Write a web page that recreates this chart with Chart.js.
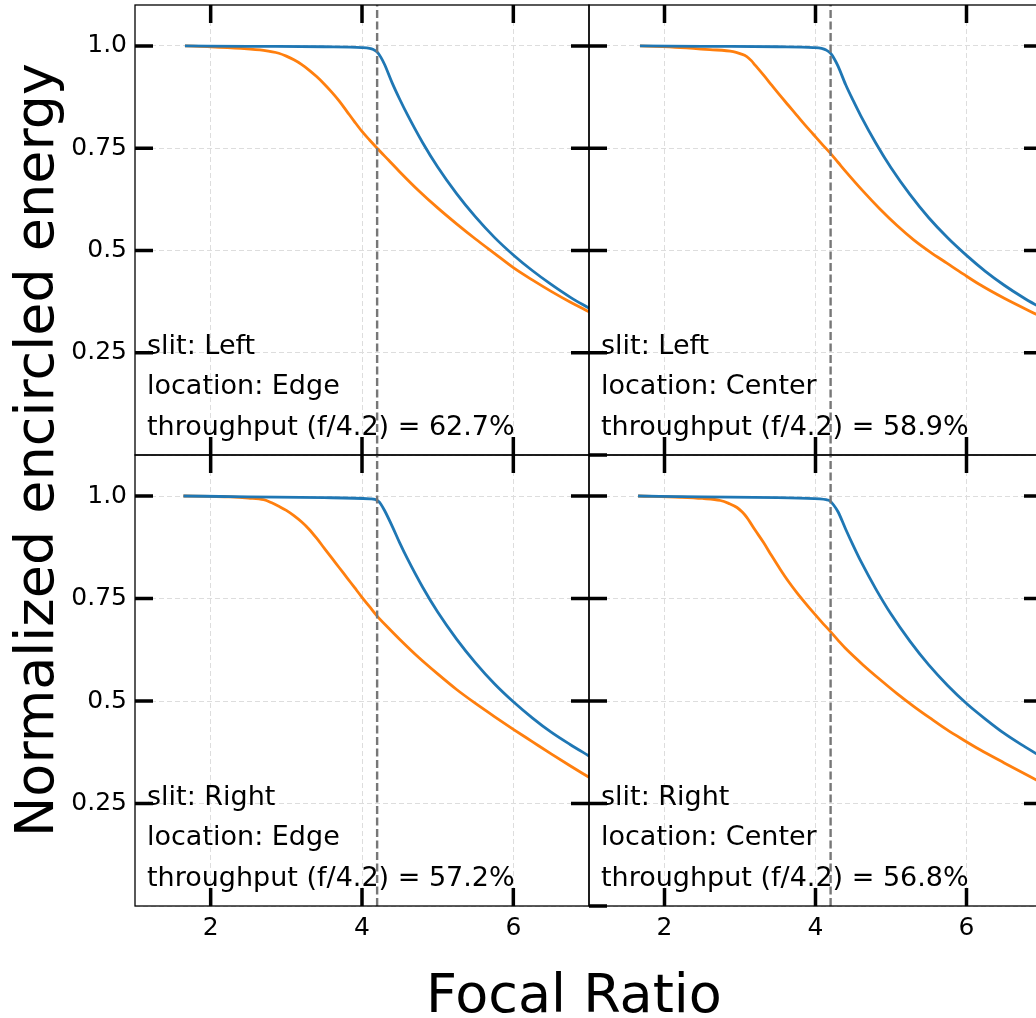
<!DOCTYPE html>
<html><head><meta charset="utf-8">
<script src="https://cdn.jsdelivr.net/npm/chart.js@4.4.0/dist/chart.umd.min.js"></script>
<style>
html,body{margin:0;padding:0;background:#fff;overflow:hidden;}
#wrap{position:relative;width:1036px;height:1018px;overflow:hidden;background:#fff;}
#wrap canvas{position:absolute;left:0;top:0;}
</style></head><body>
<div id="wrap">
<canvas id="c0" width="1050" height="1018"></canvas>
<canvas id="c1" width="1050" height="1018"></canvas>
<canvas id="c2" width="1050" height="1018"></canvas>
<canvas id="c3" width="1050" height="1018"></canvas>
</div>
<script>
// ---------- data ----------
const focalRatioRef = 4.2;
const xTickValues = [2, 4, 6];
const yTickValues = [0, 0.25, 0.5, 0.75, 1.0];
const yTickLabels = ['', '0.25', '0.5', '0.75', '1.0'];
const xTitle = 'Focal Ratio';
const yTitle = 'Normalized encircled energy';

// top-left: slit Left, location Edge
const tlBlueX = [1.66, 2.5, 3.5, 4.0, 4.1, 4.15, 4.2, 4.25, 4.3, 4.4, 4.5, 4.6, 4.8, 5.0, 5.25, 5.5, 5.75, 6.0, 6.25, 6.5, 6.75, 7.0];
const tlBlueY = [1.0, 0.999, 0.998, 0.996, 0.994, 0.991, 0.985, 0.972, 0.954, 0.909, 0.869, 0.832, 0.764, 0.704, 0.639, 0.582, 0.532, 0.489, 0.451, 0.417, 0.386, 0.359];
const tlOrangeX = [1.66, 2.0, 2.4, 2.7, 2.9, 3.0, 3.1, 3.2, 3.3, 3.4, 3.5, 3.6, 3.7, 3.8, 3.9, 4.0, 4.1, 4.2, 4.35, 4.5, 4.75, 5.0, 5.25, 5.5, 5.75, 6.0, 6.25, 6.5, 6.75, 7.0];
const tlOrangeY = [1.0, 0.998, 0.994, 0.989, 0.982, 0.975, 0.966, 0.955, 0.941, 0.925, 0.907, 0.887, 0.865, 0.840, 0.815, 0.791, 0.770, 0.750, 0.721, 0.692, 0.646, 0.604, 0.565, 0.528, 0.493, 0.458, 0.428, 0.400, 0.374, 0.350];
const tlText = ['slit: Left', 'location: Edge', 'throughput (f/4.2) = 62.7%'];

// top-right: slit Left, location Center
const trBlueX = [1.675, 2.5, 3.5, 3.97, 4.08, 4.14, 4.2, 4.25, 4.3, 4.4, 4.5, 4.6, 4.8, 5.0, 5.25, 5.5, 5.75, 6.0, 6.25, 6.5, 6.75, 7.0];
const trBlueY = [1.0, 0.999, 0.998, 0.996, 0.994, 0.990, 0.982, 0.968, 0.950, 0.905, 0.866, 0.829, 0.762, 0.702, 0.637, 0.580, 0.531, 0.488, 0.449, 0.415, 0.385, 0.358];
const trOrangeX = [1.675, 2.21, 2.6, 2.91, 3.0, 3.09, 3.15, 3.2, 3.31, 3.42, 3.53, 3.64, 3.75, 3.86, 3.97, 4.08, 4.19, 4.30, 4.41, 4.63, 4.85, 5.08, 5.30, 5.52, 5.74, 5.96, 6.18, 6.5, 7.0];
const trOrangeY = [1.0, 0.996, 0.991, 0.986, 0.981, 0.974, 0.964, 0.953, 0.929, 0.904, 0.879, 0.855, 0.831, 0.807, 0.784, 0.761, 0.739, 0.715, 0.691, 0.645, 0.602, 0.561, 0.526, 0.496, 0.469, 0.442, 0.416, 0.383, 0.337];
const trText = ['slit: Left', 'location: Center', 'throughput (f/4.2) = 58.9%'];

// bottom-left: slit Right, location Edge
const blBlueX = [1.64, 2.5, 3.5, 4.11, 4.17, 4.21, 4.25, 4.3, 4.4, 4.5, 4.6, 4.8, 5.0, 5.25, 5.5, 5.75, 6.0, 6.25, 6.5, 6.75, 7.0];
const blBlueY = [1.0, 0.998, 0.996, 0.993, 0.992, 0.988, 0.980, 0.964, 0.926, 0.885, 0.847, 0.778, 0.717, 0.651, 0.593, 0.542, 0.498, 0.459, 0.424, 0.394, 0.366];
const blOrangeX = [1.64, 2.0, 2.26, 2.5, 2.7, 2.8, 2.9, 3.0, 3.1, 3.2, 3.3, 3.4, 3.5, 3.6, 3.7, 3.8, 3.9, 4.0, 4.1, 4.2, 4.35, 4.5, 4.75, 5.0, 5.25, 5.5, 5.75, 6.0, 6.25, 6.5, 6.75, 7.0];
const blOrangeY = [1.0, 0.999, 0.998, 0.995, 0.991, 0.984, 0.975, 0.965, 0.952, 0.937, 0.919, 0.897, 0.873, 0.849, 0.825, 0.801, 0.777, 0.753, 0.730, 0.707, 0.678, 0.650, 0.606, 0.566, 0.528, 0.494, 0.462, 0.431, 0.401, 0.371, 0.342, 0.314];
const blText = ['slit: Right', 'location: Edge', 'throughput (f/4.2) = 57.2%'];

// bottom-right: slit Right, location Center
const brBlueX = [1.65, 2.5, 3.5, 4.06, 4.14, 4.19, 4.24, 4.3, 4.4, 4.5, 4.6, 4.8, 5.0, 5.25, 5.5, 5.75, 6.0, 6.25, 6.5, 6.75, 7.0];
const brBlueY = [1.0, 0.998, 0.996, 0.993, 0.991, 0.988, 0.978, 0.961, 0.919, 0.879, 0.841, 0.773, 0.712, 0.646, 0.588, 0.538, 0.494, 0.456, 0.421, 0.391, 0.363];
const brOrangeX = [1.65, 2.21, 2.5, 2.74, 2.85, 2.96, 3.03, 3.09, 3.2, 3.31, 3.42, 3.53, 3.64, 3.75, 3.86, 3.97, 4.08, 4.19, 4.30, 4.41, 4.63, 4.85, 5.08, 5.30, 5.52, 5.74, 5.96, 6.18, 6.5, 7.0];
const brOrangeY = [1.0, 0.997, 0.994, 0.989, 0.982, 0.972, 0.961, 0.948, 0.917, 0.887, 0.854, 0.822, 0.792, 0.765, 0.740, 0.716, 0.693, 0.671, 0.648, 0.626, 0.588, 0.553, 0.518, 0.487, 0.458, 0.430, 0.405, 0.381, 0.349, 0.300];
const brText = ['slit: Right', 'location: Center', 'throughput (f/4.2) = 56.8%'];

// ---------- drawing ----------
const FONT = '"DejaVu Sans", "Liberation Sans", sans-serif';
const zip = (xs, ys) => xs.map((x, i) => ({x: x, y: ys[i]}));

const framePlugin = {
  id: 'frame',
  afterDraw(chart, args, opts) {
    const ctx = chart.ctx, a = chart.chartArea, xs = chart.scales.x, ys = chart.scales.y;
    ctx.save();
    ctx.strokeStyle = '#000';
    ctx.lineWidth = 1.3;
    ctx.strokeRect(a.left, a.top, a.right - a.left, a.bottom - a.top);
    ctx.lineWidth = 3.5;
    ctx.lineCap = 'butt';
    ctx.beginPath();
    const L = 18;
    xTickValues.forEach(v => {
      const px = xs.getPixelForValue(v);
      ctx.moveTo(px, a.top); ctx.lineTo(px, a.top + L);
      ctx.moveTo(px, a.bottom); ctx.lineTo(px, a.bottom - L);
    });
    yTickValues.forEach(v => {
      const py = ys.getPixelForValue(v);
      if (v === 0) {
        if (opts.zeroTick) { ctx.moveTo(a.left, py); ctx.lineTo(a.left + L, py); }
        return;
      }
      ctx.moveTo(a.left, py); ctx.lineTo(a.left + L, py);
      ctx.moveTo(a.right, py); ctx.lineTo(a.right - L, py);
    });
    ctx.stroke();
    ctx.fillStyle = '#000';
    ctx.font = '27px ' + FONT;
    ctx.textAlign = 'left';
    ctx.textBaseline = 'alphabetic';
    (opts.lines || []).forEach((t, i) => {
      ctx.fillText(t, a.left + 12, a.bottom - 101.5 + i * 40.7);
    });
    if (opts.titles) {
      ctx.font = '54px ' + FONT;
      ctx.textAlign = 'center';
      ctx.fillText(xTitle, 574, 1012);
      ctx.save();
      ctx.translate(53, 450);
      ctx.rotate(-Math.PI / 2);
      ctx.fillText(yTitle, 0, 0);
      ctx.restore();
    }
    ctx.restore();
  }
};

function makePanel(id, cfg) {
  return new Chart(document.getElementById(id), {
    type: 'line',
    data: {
      datasets: [
        {data: [{x: focalRatioRef, y: 0}, {x: focalRatioRef, y: 1.1}], borderColor: '#777777', borderWidth: 2.4,
         borderDash: [8, 3.5], pointRadius: 0, tension: 0},
        {data: zip(cfg.bx, cfg.by), borderColor: '#1f77b4', borderWidth: 2.8, pointRadius: 0, cubicInterpolationMode: 'monotone'},
        {data: zip(cfg.ox, cfg.oy), borderColor: '#ff7f0e', borderWidth: 2.8, pointRadius: 0, cubicInterpolationMode: 'monotone'}
      ]
    },
    options: {
      responsive: false, animation: false, devicePixelRatio: 1, events: [],
      layout: {padding: cfg.pad},
      plugins: {legend: {display: false}, tooltip: {enabled: false},
        frame: {lines: cfg.text, zeroTick: cfg.zeroTick, titles: cfg.titles}},
      scales: {
        x: {
          type: 'linear', min: 1, max: 7,
          afterBuildTicks: s => { s.ticks = xTickValues.map(v => ({value: v})); },
          afterFit: s => { s.height = cfg.showX ? 112 : 0; s.paddingLeft = 0; s.paddingRight = 0; s.paddingTop = 0; s.paddingBottom = 0; },
          ticks: {display: cfg.showX, autoSkip: false, maxRotation: 0, padding: 7, color: '#000',
                  font: {family: FONT, size: 25}, callback: v => String(v)},
          grid: {color: '#dddddd', lineWidth: 1, drawTicks: false},
          border: {display: false, dash: [5, 3]}
        },
        y: {
          type: 'linear', min: 0, max: 1.1,
          afterBuildTicks: s => { s.ticks = yTickValues.map(v => ({value: v})); },
          afterFit: s => { s.width = cfg.showY ? 135 : 0; s.paddingLeft = 0; s.paddingRight = 0; s.paddingTop = 0; s.paddingBottom = 0; },
          ticks: {display: cfg.showY, autoSkip: false, padding: 8, color: '#000',
                  font: {family: FONT, size: 25},
                  callback: v => { const i = yTickValues.indexOf(v); return i >= 0 ? yTickLabels[i] : ''; }},
          grid: {color: '#dddddd', lineWidth: 1, drawTicks: false},
          border: {display: false, dash: [5, 3]}
        }
      }
    },
    plugins: [framePlugin]
  });
}

makePanel('c0', {bx: tlBlueX, by: tlBlueY, ox: tlOrangeX, oy: tlOrangeY, text: tlText,
  pad: {left: 0, top: 5, right: 461, bottom: 563}, showX: false, showY: true, zeroTick: false, titles: true});
makePanel('c1', {bx: trBlueX, by: trBlueY, ox: trOrangeX, oy: trOrangeY, text: trText,
  pad: {left: 589, top: 5, right: 8, bottom: 563}, showX: false, showY: false, zeroTick: true, titles: false});
makePanel('c2', {bx: blBlueX, by: blBlueY, ox: blOrangeX, oy: blOrangeY, text: blText,
  pad: {left: 0, top: 455, right: 461, bottom: 0}, showX: true, showY: true, zeroTick: false, titles: false});
makePanel('c3', {bx: brBlueX, by: brBlueY, ox: brOrangeX, oy: brOrangeY, text: brText,
  pad: {left: 589, top: 455, right: 8, bottom: 0}, showX: true, showY: false, zeroTick: true, titles: false});
</script>
</body></html>
